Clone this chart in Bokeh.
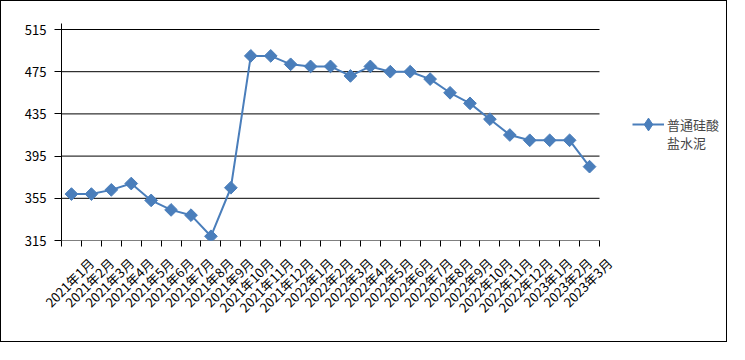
import math
from bokeh.plotting import figure
from bokeh.models import FixedTicker, Range1d, Legend, LegendItem
from bokeh.embed import file_html
from bokeh.resources import INLINE

months = ["2021年1月", "2021年2月", "2021年3月", "2021年4月", "2021年5月", "2021年6月",
          "2021年7月", "2021年8月", "2021年9月", "2021年10月", "2021年11月", "2021年12月",
          "2022年1月", "2022年2月", "2022年3月", "2022年4月", "2022年5月", "2022年6月",
          "2022年7月", "2022年8月", "2022年9月", "2022年10月", "2022年11月", "2022年12月",
          "2023年1月", "2023年2月", "2023年3月"]
prices = [359, 359, 363, 369, 353, 344, 339, 319, 365, 490, 490, 482, 480,
          480, 471, 480, 475, 475, 468, 455, 445, 430, 415, 410, 410, 410, 385]
y_ticks = [315, 355, 395, 435, 475, 515]
legend_lines = ["普通硅酸", "盐水泥"]

FONT = "Noto Sans CJK SC"
BLUE = "#4A7EBB"

# layout (pixels)
W, H = 727, 342
LEFT, TOP, BOTTOM = 60, 22, 103
PLOT_W = 538            # width of the category area
AXIS_EXTRA = 6          # y axis line pokes above the top gridline

n = len(months)
xs = [i + 0.5 for i in range(n)]
frame_w = W - LEFT
frame_h = H - TOP - BOTTOM
x_end = n * frame_w / PLOT_W
y_span = y_ticks[-1] - y_ticks[0]
y_end = y_ticks[-1] + y_span * AXIS_EXTRA / (frame_h - AXIS_EXTRA)

label_shift = 1.0
label_pos = [x + label_shift for x in xs]

p = figure(width=W, height=H, output_backend="svg", toolbar_location=None,
           x_range=Range1d(0, x_end), y_range=Range1d(y_ticks[0], y_end),
           min_border_left=LEFT, min_border_right=0, min_border_top=TOP,
           min_border_bottom=BOTTOM)
p.styles = {"border": "1px solid black"}
p.outline_line_color = None
p.background_fill_color = "white"
p.border_fill_color = "white"

# horizontal gridlines only across the category area (bottom one doubles as x axis line)
p.segment(x0=[0] * len(y_ticks), x1=[n] * len(y_ticks), y0=y_ticks, y1=y_ticks,
          line_color="black", line_width=1)

r_line = p.line(xs, prices, line_color=BLUE, line_width=2)
# diamond copy (hidden under the markers) supplies the legend's diamond glyph
r_dup = p.scatter(xs, prices, marker="diamond", size=10, fill_color=BLUE, line_color=BLUE)
p.scatter(xs, prices, marker="square", angle=math.pi / 4, size=9,
          fill_color=BLUE, line_color=BLUE)
r_blank = p.line([], [], line_alpha=0)

# x axis: labels (offset like the reference), tick marks at category boundaries
p.xaxis.ticker = FixedTicker(ticks=label_pos, minor_ticks=list(range(n + 1)))
p.xaxis.major_label_overrides = {x: m for x, m in zip(label_pos, months)}
p.xaxis.major_label_orientation = math.pi / 4
p.xaxis.major_tick_line_color = None
p.xaxis.minor_tick_in = 0
p.xaxis.minor_tick_out = 6
p.xaxis.minor_tick_line_color = "black"
p.xaxis.axis_line_color = None
p.xaxis.major_label_text_font = FONT
p.xaxis.major_label_text_font_size = "13px"
p.xaxis.major_label_text_color = "black"
p.xaxis.major_label_standoff = 14

p.yaxis.ticker = FixedTicker(ticks=y_ticks)
p.yaxis.minor_tick_line_color = None
p.yaxis.major_tick_in = 0
p.yaxis.major_tick_out = 7
p.yaxis.major_tick_line_color = "black"
p.yaxis.axis_line_color = "black"
p.yaxis.major_label_text_font = FONT
p.yaxis.major_label_text_font_size = "13px"
p.yaxis.major_label_text_color = "black"
p.yaxis.major_label_standoff = 8

p.xgrid.grid_line_color = None
p.ygrid.grid_line_color = None

common = dict(glyph_width=32, label_text_font=FONT, label_text_font_size="13px",
              label_standoff=3, padding=0, margin=0, spacing=0,
              border_line_color=None, background_fill_alpha=0)
legend1 = Legend(items=[LegendItem(label=legend_lines[0], renderers=[r_line, r_dup])],
                 location=(571, 100), glyph_height=32, label_height=18, **common)
legend2 = Legend(items=[LegendItem(label=legend_lines[1], renderers=[r_blank])],
                 location=(571, 88), glyph_height=18, label_height=18, **common)
p.add_layout(legend1, "center")
p.add_layout(legend2, "center")

open("out.html", "w").write(file_html(p, INLINE))
